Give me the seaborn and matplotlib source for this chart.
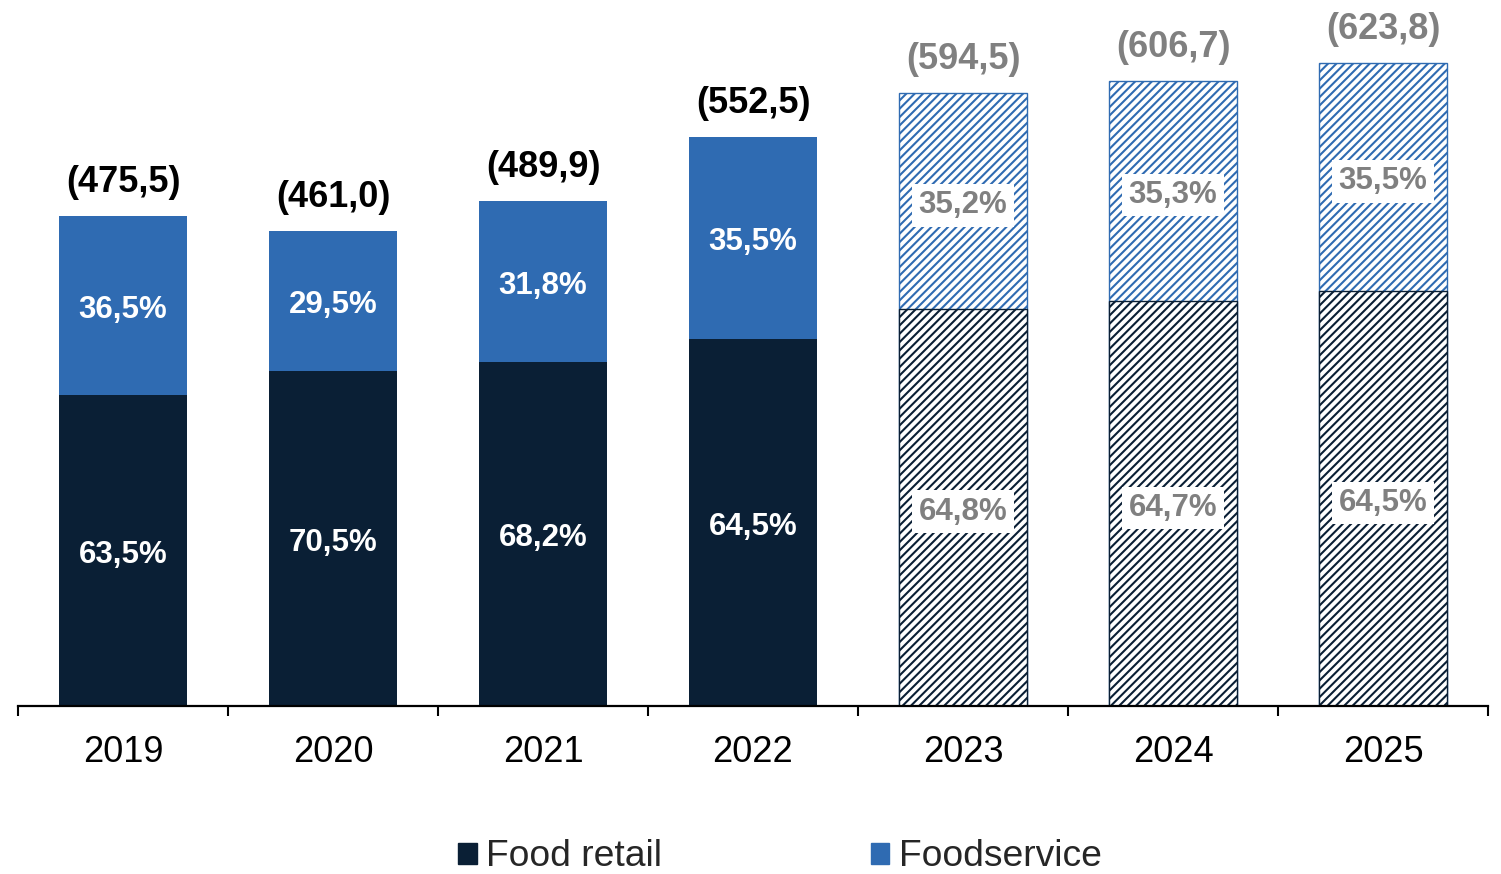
import matplotlib
matplotlib.use("Agg")
import matplotlib.pyplot as plt
import seaborn as sns
import pandas as pd
import numpy as np
from matplotlib.patches import Patch

years = ["2019", "2020", "2021", "2022", "2023", "2024", "2025"]
totals = [475.5, 461.0, 489.9, 552.5, 594.5, 606.7, 623.8]
retail_share = [63.5, 70.5, 68.2, 64.5, 64.8, 64.7, 64.5]
foodservice_share = [36.5, 29.5, 31.8, 35.5, 35.2, 35.3, 35.5]
forecast = [False, False, False, False, True, True, True]
total_labels = ["(475,5)", "(461,0)", "(489,9)", "(552,5)", "(594,5)", "(606,7)", "(623,8)"]

NAVY = "#0A1F35"
BLUE = "#2F6BB2"
GREY = "#808080"

sns.set_theme(style="white")
plt.rcParams["font.family"] = ["Liberation Sans", "DejaVu Sans"]
plt.rcParams["hatch.linewidth"] = 1.5

df = pd.DataFrame({
    "year": years,
    "total": totals,
    "retail": [t * s / 100 for t, s in zip(totals, retail_share)],
})

fig = plt.figure(figsize=(15.01, 8.74), dpi=100)
ax = fig.add_axes([18 / 1501, 1 - 706 / 874, 1470 / 1501, 686 / 874])

sns.barplot(data=df, x="year", y="total", color=BLUE, width=0.605, ax=ax,
            saturation=1, edgecolor=BLUE, linewidth=0)
sns.barplot(data=df, x="year", y="retail", color=NAVY, width=0.605, ax=ax,
            saturation=1, edgecolor=NAVY, linewidth=0)

n = len(years)
top_patches = ax.patches[:n]
bot_patches = ax.patches[n:2 * n]
for i in range(n):
    if forecast[i]:
        for p, c in ((top_patches[i], BLUE), (bot_patches[i], NAVY)):
            p.set_facecolor("white")
            p.set_edgecolor(c)
            p.set_hatch("////")
            p.set_linewidth(1.0)

ax.set_xlim(-0.5, n - 0.5)
ax.set_ylim(0, 686 / 1.0307)

for i in range(n):
    t = totals[i]
    r = df["retail"][i]
    fc = forecast[i]
    col = GREY if fc else "white"
    bbox = dict(facecolor="white", edgecolor="none", pad=4.5) if fc else None
    ax.annotate(f"{retail_share[i]:.1f}%".replace(".", ","), xy=(i, r / 2),
                xytext=(0, -3), textcoords="offset points", ha="center", va="center",
                fontsize=22.5, fontweight="bold", color=col, bbox=bbox)
    ax.annotate(f"{foodservice_share[i]:.1f}%".replace(".", ","), xy=(i, r + (t - r) / 2),
                xytext=(0, -3), textcoords="offset points", ha="center", va="center",
                fontsize=22.5, fontweight="bold", color=col, bbox=bbox)
    ax.annotate(total_labels[i], xy=(i, t), xytext=(0, 24), textcoords="offset points",
                ha="center", va="center", fontsize=26, fontweight="bold",
                color=GREY if fc else "black")

for s in ["top", "right", "left"]:
    ax.spines[s].set_visible(False)
ax.spines["bottom"].set_color("black")
ax.spines["bottom"].set_linewidth(1.6)
ax.set_yticks([])
ax.set_xlabel("")
ax.set_ylabel("")
ax.set_xticks(np.arange(-0.5, n, 1.0), minor=True)
ax.tick_params(axis="x", which="minor", length=7.5, width=1.5, direction="out",
               color="black", bottom=True)
ax.tick_params(axis="x", which="major", length=0, pad=21, labelsize=26,
               labelcolor="black")

handles = [Patch(facecolor=NAVY, edgecolor=NAVY, label="Food retail"),
           Patch(facecolor=BLUE, edgecolor=BLUE, label="Foodservice")]
fig.legend(handles=handles, loc="center", bbox_to_anchor=(780 / 1501, 1 - 857 / 874),
           ncol=2, frameon=False, fontsize=26.8, handlelength=0.5, handleheight=0.5,
           handletextpad=0.25, columnspacing=5.6, borderpad=0)

fig.savefig("out.png", dpi=100)
